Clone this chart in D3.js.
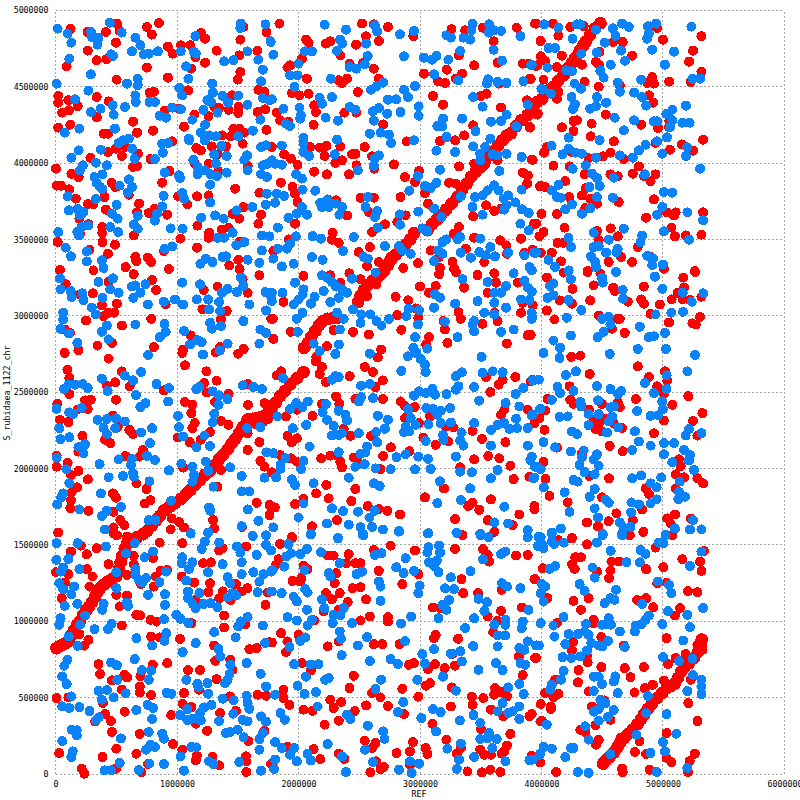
<!DOCTYPE html>
<html><head><meta charset="utf-8"><script src="https://d3js.org/d3.v7.min.js"></script>
<style>html,body{margin:0;background:#fff}svg{display:block}text{font-family:"DejaVu Sans Mono",monospace;font-size:8.3px;fill:#000}</style></head><body><svg id="c" width="800" height="800"></svg>
<script>
// all positions in thousands of bases: [REF, S_rubidaea_1122_chr]
const xTicks=[0,1000000,2000000,3000000,4000000,5000000,6000000];
const yTicks=[0,500000,1000000,1500000,2000000,2500000,3000000,3500000,4000000,4500000,5000000];
const mainDiagonal=[[8,824],[30,835],[55,845],[80,855],[105,870],[125,905],[150,940],[175,975],[201,1000],[225,1040],[250,1070],[275,1095],[300,1125],[325,1160],[345,1190],[365,1215],[395,1240],[430,1260],[464,1275],[500,1295],[520,1340],[535,1385],[550,1430],[570,1475],[590,1510],[630,1535],[671,1550],[720,1570],[754,1590],[790,1625],[825,1660],[860,1690],[892,1725],[940,1750],[985,1775],[1030,1800],[1070,1830],[1110,1860],[1150,1895],[1190,1925],[1230,1960],[1270,1985],[1306,2020],[1345,2060],[1380,2090],[1416,2125],[1450,2165],[1480,2195],[1513,2235],[1540,2270],[1581,2320],[1620,2325],[1660,2330],[1690,2335],[1720,2345],[1650,2300],[1700,2310],[1740,2330],[1750,2365],[1780,2400],[1810,2430],[1849,2475],[1890,2510],[1931,2550],[1985,2590],[2041,2630],[2045,2790],[2075,2820],[2105,2860],[2138,2900],[2170,2940],[2200,2965],[2240,2980],[2280,2985],[2490,3090],[2510,3130],[2540,3170],[2570,3200],[2610,3230],[2660,3260],[2700,3290],[2735,3330],[2758,3365],[2800,3400],[2840,3430],[2880,3465],[2920,3500],[2950,3540],[3061,3560],[3100,3600],[3140,3630],[3175,3660],[3215,3695],[3260,3735],[3310,3780],[3345,3825],[3385,3865],[3420,3910],[3460,3945],[3500,3975],[3530,4000],[3570,4050],[3605,4075],[3640,4110],[3680,4150],[3715,4180],[3750,4195],[3790,4240],[3835,4280],[3887,4315],[3930,4360],[3965,4400],[4005,4420],[4040,4460],[4070,4480],[4100,4500],[4140,4540],[4182,4575],[4215,4620],[4250,4655],[4280,4690],[4315,4735],[4345,4770],[4365,4795],[4400,4840],[4440,4880],[4485,4915]];
const secondDiagonal=[[4507,68],[4530,90],[4560,110],[4595,140],[4625,175],[4650,205],[4680,235],[4710,260],[4750,290],[4790,325],[4820,360],[4845,390],[4875,425],[4910,460],[4950,495],[4995,530],[5030,560],[5065,575],[5095,590],[5125,630],[5150,670],[5175,695],[5215,725],[5255,760],[5290,800],[5310,835],[5320,880]];
const redPoints=[[124,4880],[262,4858],[414,4858],[505,4913],[527,4865],[751,4891],[850,4917],[792,4841],[497,4788],[265,4736],[339,4673],[420,4681],[91,4633],[751,4625],[502,4546],[925,4559],[925,4762],[963,4716],[1032,4771],[1110,4771],[1151,4694],[1231,4657],[1325,4736],[1198,4852],[1231,4814],[1118,4618],[1521,4808],[1513,4705],[1521,4596],[1499,4546],[1662,4736],[1736,4858],[1546,4891],[22,4439],[22,4395],[105,4411],[55,4330],[110,4345],[182,4373],[339,4432],[436,4404],[339,4299],[638,4271],[22,4232],[121,4251],[395,4192],[431,4192],[671,4199],[803,4212],[773,4461],[809,4467],[897,4341],[1013,4356],[1143,4317],[1259,4306],[1093,4476],[1057,4238],[960,4142],[431,4072],[497,4094],[546,4046],[574,4105],[287,4035],[679,4061],[638,3974],[671,3980],[781,4026],[3,3963],[130,3930],[190,3908],[938,3948],[878,3871],[461,3871],[491,3843],[8,3852],[44,3852],[113,3828],[166,3767],[403,3777],[602,3793],[265,3732],[312,3732],[687,3734],[414,3695],[671,3677],[767,3673],[814,3701],[919,3662],[196,3636],[271,3599],[384,3581],[384,3542],[201,3537],[643,3526],[17,3483],[386,3483],[489,3465],[279,3433],[431,3406],[657,3385],[665,3358],[759,3380],[787,3352],[577,3319],[933,3306],[312,3297],[892,3424],[1027,3505],[1165,3446],[1168,3590],[1264,3544],[1259,3511],[1369,3564],[1424,3577],[1457,3668],[1513,3636],[1546,3712],[1479,3832],[1678,3806],[1259,3788],[1165,3782],[1010,3782],[1085,3729],[1692,3662],[1670,3603],[1515,3483],[1504,3367],[1430,3330],[1515,3306],[1159,4098],[1195,4083],[1286,4109],[1402,4109],[1333,4057],[1148,3996],[1259,3996],[1339,3948],[1581,3980],[1372,4181],[1463,4225],[1513,4225],[1554,4199],[1443,4175],[1540,4127],[1736,4218],[1664,4334],[1725,4352],[1507,4367],[1504,4328],[1347,4360],[1424,4349],[1306,4367],[1452,4443],[1670,4480],[1720,4465],
[1843,4913],[2063,4808],[2083,4788],[2226,4782],[2262,4797],[2474,4775],[2523,4913],[2620,4908],[2736,4891],[2556,4830],[2661,4799],[2945,4830],[2344,4705],[2028,4683],[1931,4640],[1909,4625],[2421,4651],[2532,4657],[2620,4618],[2069,4552],[2331,4542],[2399,4552],[2358,4524],[2661,4552],[3033,4585],[3220,4611],[3347,4585],[3149,4535],[3207,4524],[3295,4552],[3259,4876],[3372,4869],[3515,4886],[3796,4886],[3956,4913],[3992,4799],[3606,4797],[3320,4705],[3446,4640],[3639,4657],[3845,4651],[3895,4651],[3956,4635],[3900,4552],[3647,4520],[2488,4465],[1945,4459],[2008,4443],[2083,4454],[3107,4439],[3190,4382],[3501,4439],[3548,4454],[3667,4363],[3882,4411],[3970,4323],[2129,4378],[2143,4334],[1821,4330],[2477,4330],[2377,4330],[1849,4280],[1918,4269],[2124,4251],[2697,4253],[3438,4247],[3901,4236],[3364,4181],[3165,4144],[3289,4149],[2890,4142],[1780,4105],[2096,4105],[2174,4101],[2229,4112],[2344,4109],[2545,4105],[1882,4057],[1937,4029],[2215,4046],[2303,4002],[2358,4018],[2441,4057],[2469,4061],[2606,4044],[1992,3989],[2477,3985],[2625,3963],[2785,3991],[3322,3978],[3446,3996],[3639,4018],[3928,4022],[3474,3952],[2129,3943],[2234,3926],[2416,3926],[2876,3908],[2992,3948],[2959,3876],[1854,3871],[1950,3843],[1972,3799],[1992,3745],[3846,3937],[3887,3919],[3882,3865],[3992,3852],[3240,3871],[3295,3865],[3041,3804],[2840,3777],[2510,3773],[2620,3773],[2309,3756],[3066,3734],[3545,3723],[2399,3657],[1972,3603],[2579,3679],[2882,3657],[2813,3614],[3438,3651],[3612,3686],[3667,3701],[4000,3668],[3956,3603],[2711,3599],[2606,3548],[2959,3537],[2923,3494],[3320,3581],[3276,3537],[3446,3511],[3661,3494],[3832,3505],[3928,3433],[1920,3500],[2281,3544],[2275,3498],[2331,3478],[2587,3450],[2496,3417],[1793,3424],[2661,3352],[2758,3385],[2565,3326],[2862,3313],[2984,3345],[3088,3428],[3157,3385],[3165,3313],[3267,3352],[3378,3439],[3529,3352],[3711,3461],[3716,3406],[3859,3413],[3281,3308],
[3948,4913],[4094,4913],[4237,4891],[4347,4897],[4898,4895],[4953,4884],[5317,4830],[4140,4834],[3994,4799],[5000,4808],[4590,4793],[4669,4793],[5248,4736],[4168,4703],[4747,4703],[4477,4727],[3994,4699],[4030,4668],[4127,4629],[3967,4640],[4333,4644],[4449,4662],[4477,4640],[5215,4664],[5317,4598],[3912,4550],[4017,4546],[4355,4533],[4471,4500],[4645,4509],[4912,4563],[4926,4520],[4871,4524],[5052,4533],[5229,4531],[4140,4465],[4127,4421],[4885,4443],[4920,4395],[3967,4317],[3912,4334],[4529,4317],[4264,4275],[4292,4280],[4413,4258],[4821,4251],[4959,4229],[5050,4236],[5052,4275],[4168,4234],[4264,4208],[4405,4175],[3906,4232],[4595,4142],[4939,4133],[5331,4153],[4022,4068],[4044,4105],[4251,4072],[4388,4031],[4507,4044],[4568,4068],[4678,4026],[5058,4087],[5154,4122],[5248,4081],[3920,4022],[4099,3983],[4231,3978],[4802,3978],[4355,3926],[4568,3926],[4628,3913],[4752,3930],[4843,3915],[4939,3926],[4898,3880],[4196,3882],[3989,3847],[4030,3843],[4366,3837],[4333,3788],[4229,3777],[4402,3767],[4457,3734],[4636,3745],[4926,3762],[4000,3668],[4127,3666],[4361,3705],[4862,3642],[5030,3677],[5105,3677],[5091,3657],[5331,3677],[3939,3603],[5069,3577],[4017,3548],[3983,3520],[4190,3577],[4457,3555],[4570,3572],[4628,3520],[5099,3520],[5187,3526],[5317,3531],[4132,3478],[4182,3478],[4471,3494],[4793,3450],[3994,3413],[4085,3413],[4656,3385],[4160,3356],[4554,3352],[4747,3352],[4898,3385],[5008,3308],[4380,3293],[5262,3293],
[22,1581],[477,1576],[588,1554],[856,1515],[1043,1511],[207,1495],[127,1456],[257,1439],[339,1478],[1568,1489],[1347,1463],[1375,1478],[803,1413],[643,1428],[436,1373],[643,1373],[3,1321],[105,1308],[257,1341],[304,1293],[588,1304],[822,1293],[864,1332],[919,1336],[1038,1293],[1214,1380],[1278,1386],[1140,1253],[1272,1249],[809,1227],[704,1243],[77,1253],[279,1227],[1259,1190],[1375,1195],[1347,1151],[1532,1195],[1579,1216],[1485,1243],[500,1173],[588,1168],[50,1151],[527,1097],[1154,1140],[1441,1140],[1747,1188],[1728,1107],[665,1042],[698,1038],[781,1009],[831,998],[1388,1038],[1118,988],[546,972],[1388,959],[1562,981],[196,916],[787,900],[856,894],[1024,885],[270,878],[237,841],[1306,841],[1595,817],[1656,824],[1761,863],[353,719],[800,715],[919,726],[1314,741],[1438,748],[1457,682],[367,654],[566,650],[588,632],[698,639],[464,613],[1090,680],[1190,680],[1325,621],[546,552],[693,573],[693,534],[1057,530],[1181,552],[1435,508],[1664,519],[1733,512],[8,497],[105,501],[787,517],[389,464],[1046,460],[1118,438],[569,408],[1485,414],[1355,399],[408,392],[952,386],[326,344],[455,347],[1154,329],[1248,283],[464,275],[693,262],[1720,283],[966,196],[1587,216],[500,166],[1043,159],[30,137],[665,133],[1162,120],[1154,89],[1292,111],[1568,116],[1570,83],[386,111],[762,65],[1347,57],[1775,65],[215,35],[237,2],[497,35],[707,11],[1570,13],
[1945,1543],[1848,1506],[2242,1430],[2289,1430],[2413,1439],[2620,1467],[2758,1495],[2959,1463],[3289,1474],[3518,1472],[3557,1434],[3571,1391],[3791,1430],[3887,1434],[1835,1406],[1815,1369],[2041,1362],[2074,1341],[2394,1380],[2468,1380],[2510,1380],[2311,1315],[2275,1299],[2661,1330],[2986,1308],[1950,1264],[2022,1282],[2014,1260],[2298,1249],[2854,1243],[3342,1275],[3945,1277],[2446,1216],[2510,1223],[2226,1184],[2339,1184],[2275,1144],[2556,1144],[3356,1184],[3479,1184],[2405,1125],[3672,1206],[2207,1064],[2331,1075],[3107,1090],[3171,1086],[3667,1068],[3840,1090],[2587,1031],[2736,1027],[2736,998],[2510,1005],[3557,1031],[2132,1005],[3639,1005],[3603,929],[1857,922],[2000,911],[1909,868],[1780,861],[2331,868],[2240,835],[3116,889],[3129,911],[3314,885],[2620,850],[2689,850],[2832,850],[1898,798],[3267,787],[2028,726],[2909,715],[2950,726],[3066,687],[3124,719],[3204,693],[3287,709],[3956,759],[3813,770],[2102,678],[2455,643],[3846,647],[2419,563],[2606,530],[2675,501],[2854,558],[3047,578],[3083,595],[2986,506],[3262,567],[3427,506],[3521,497],[3617,562],[3611,519],[3667,536],[1876,552],[1876,497],[1925,453],[2262,486],[2350,471],[2289,432],[2556,449],[2736,445],[3254,442],[3433,453],[3716,508],[3584,421],[2041,421],[2116,414],[2463,412],[2868,392],[3686,377],[3901,377],[3992,344],[2215,323],[2331,349],[3102,329],[3744,262],[3501,294],[3218,225],[2942,209],[2545,218],[2634,203],[2606,170],[3716,187],[3694,148],[1909,177],[2124,163],[2331,133],[2377,98],[2807,137],[2917,148],[3047,170],[3061,131],[3303,133],[3336,170],[3496,159],[3529,126],[3584,126],[3672,133],[2179,98],[1780,61],[2639,83],[2675,33],[2702,46],[2917,61],[2592,11],[3391,17],[3510,11],[3579,28],[3661,13],
[4251,1543],[4375,1504],[4939,1482],[4278,1419],[4325,1419],[4576,1391],[4636,1391],[4251,1373],[4273,1343],[4457,1325],[4568,1332],[4557,1282],[4862,1341],[5003,1354],[5160,1406],[5306,1391],[5317,1330],[5339,1461],[4011,1347],[3942,1275],[4953,1249],[5030,1253],[5207,1197],[5284,1190],[4050,1151],[4264,1134],[4388,1151],[4788,1140],[4862,1151],[4920,1092],[5141,1086],[5099,1038],[4325,1075],[4430,1009],[4430,988],[4127,988],[4493,896],[5030,889],[4259,863],[4251,809],[4678,841],[5284,846],[5325,813],[5187,785],[5105,759],[5041,719],[3948,759],[4375,774],[4380,730],[4306,680],[4493,700],[4686,693],[4843,700],[4733,634],[4300,600],[4113,617],[4851,562],[4917,584],[4766,534],[4388,541],[5008,612],[5229,617],[4030,530],[4140,525],[4099,501],[3994,458],[4077,442],[4077,425],[5209,464],[4416,442],[4518,482],[3920,392],[4003,349],[4568,355],[5284,347],[4320,290],[4444,318],[4361,275],[5030,268],[4471,224],[4449,192],[4807,214],[4769,144],[4862,131],[5030,105],[5069,78],[5262,133],[5220,85],[3989,76],[3920,120],[4121,13],[4664,35],[4669,11],[4890,28],[5207,13],[5085,595],[4650,235],
[36,3300],[83,3206],[436,3221],[643,3272],[795,3234],[201,3140],[306,3147],[505,3079],[381,3068],[828,3169],[906,3074],[251,2969],[395,2998],[436,3020],[483,3020],[787,2980],[546,2936],[77,2910],[119,2888],[1209,3042],[1333,3191],[1220,3169],[1408,3031],[1361,2976],[1581,3151],[1540,3239],[1678,3265],[1775,2980],[1112,2871],[1051,2779],[1043,2757],[1355,2796],[1319,2761],[1548,2783],[1504,2752],[345,2805],[464,2823],[809,2796],[188,2775],[75,2757],[436,2720],[1065,2676],[97,2647],[113,2593],[1242,2636],[544,2636],[1223,2560],[1325,2575],[422,2542],[491,2564],[610,2538],[113,2488],[892,2512],[1245,2498],[1424,2490],[1581,2553],[14,2424],[243,2446],[290,2450],[497,2450],[179,2385],[265,2389],[1065,2435],[1126,2417],[1118,2363],[1314,2435],[1584,2417],[1720,2428],[36,2319],[105,2304],[472,2347],[511,2271],[607,2253],[638,2225],[1145,2297],[1126,2264],[1272,2238],[1361,2312],[1424,2286],[221,2214],[408,2188],[450,2166],[1195,2188],[1104,2173],[1007,2203],[1581,2231],[1678,2173],[188,2111],[720,2122],[690,2078],[574,2082],[8,2085],[1581,2122],[99,2039],[8,2012],[1686,2050],[188,1984],[1051,2006],[1361,1990],[1720,2012],[127,1958],[265,1929],[665,1903],[179,1877],[132,1844],[748,1866],[1333,1881],[472,1837],[497,1809],[127,1793],[781,1793],[734,1771],[121,1741],[270,1723],[477,1717],[1656,1776],[1761,1761],[1761,1695],[533,1662],[566,1629],[477,1614],[947,1601],[955,1673],[1016,1651],[1057,1614],[1297,1662],[1306,1607],[505,1563],[1535,1618],
[2041,3261],[2262,3265],[2419,3278],[2344,3217],[1876,3092],[2496,3129],[2510,3239],[2565,3129],[2639,3206],[2799,3125],[2904,3101],[3000,3191],[3074,3151],[3129,3195],[3364,3184],[3295,3287],[3157,3272],[3474,3267],[3612,3278],[2964,3048],[1788,2980],[2317,2976],[2813,3004],[2986,2987],[3317,3024],[3336,2980],[3193,2965],[3204,2910],[3515,2947],[3639,2965],[3612,3020],[3557,3151],[3625,3217],[3832,3020],[3846,3085],[3804,3217],[1937,2895],[2289,2906],[2449,2895],[2579,2877],[2846,2908],[1793,2849],[3074,2860],[3052,2812],[3226,2823],[3714,2818],[3887,2873],[2234,2801],[2680,2779],[2653,2728],[2146,2731],[2143,2702],[2193,2665],[2545,2665],[2174,2619],[2612,2632],[1857,2636],[1821,2610],[2421,2604],[2226,2566],[2694,2577],[2634,2534],[3543,2599],[3647,2549],[3680,2582],[3785,2599],[3928,2582],[3579,2501],[2309,2472],[2694,2455],[2468,2457],[2840,2439],[2336,2424],[2873,2411],[2956,2402],[2193,2422],[1986,2385],[2116,2345],[1895,2341],[2876,2330],[2992,2297],[3083,2341],[3276,2269],[3212,2275],[3694,2385],[3667,2352],[3887,2385],[3984,2330],[2372,2260],[2427,2214],[2598,2214],[1909,2214],[1945,2172],[1986,2198],[3433,2247],[3028,2203],[3510,2194],[3234,2177],[3129,2155],[3703,2172],[2760,2139],[2912,2113],[2697,2082],[2187,2067],[2262,2085],[2317,2085],[2344,2045],[2358,2008],[2455,2071],[2496,2034],[3562,2082],[3653,2067],[3446,2060],[3744,2019],[3331,2008],[1937,2067],[1986,2045],[3901,1947],[1849,2089],[1780,1975],[2675,1995],[3771,1931],[2468,1866],[2229,1892],[2146,1837],[3198,1869],[2248,1804],[3041,1811],[3584,1798],[3433,1776],[3488,1729],[3397,1754],[2041,1800],[2435,1787],[2570,1754],[2661,1734],[2730,1723],[2835,1699],[1972,1767],[1804,1745],[3818,1699],[3289,1669],[3557,1662],[3612,1585],[3763,1629],[2317,1662],[2110,1622],[1945,1552],[3350,1563],
[4044,3250],[4182,3283],[4380,3287],[4485,3278],[5168,3250],[5265,3287],[4256,3177],[4430,3199],[4590,3184],[4604,3162],[4843,3191],[5174,3184],[5120,3151],[4149,3101],[4251,3079],[4402,3101],[4711,3092],[4821,3107],[4843,3079],[4975,3074],[5072,3107],[5163,3107],[5223,3103],[5317,3125],[4044,3035],[3928,3068],[4107,2976],[4471,3002],[4628,2980],[4645,2980],[4898,3013],[5050,2956],[5306,2993],[5243,2950],[5270,2943],[4581,2915],[4686,2888],[3912,2873],[4245,2731],[4320,2739],[4793,2669],[4397,2619],[5017,2636],[5036,2575],[4884,2599],[3912,2571],[4231,2538],[4953,2538],[5008,2490],[5209,2474],[4777,2455],[4050,2457],[4237,2450],[4264,2424],[4499,2422],[4628,2433],[4645,2402],[5077,2417],[4030,2380],[4333,2406],[4391,2385],[5325,2363],[5248,2312],[5008,2314],[4430,2319],[4471,2293],[4526,2323],[4595,2297],[4664,2264],[4443,2260],[4499,2242],[3942,2297],[4025,2253],[4926,2231],[5284,2216],[4562,2148],[4127,2137],[4669,2113],[4333,2100],[4017,2043],[5132,2060],[5146,2017],[5105,1962],[5174,1942],[5284,1936],[5331,1903],[4394,1951],[4033,1933],[4556,1936],[5105,1870],[4857,1870],[4884,1833],[4066,1822],[4499,1811],[4215,1778],[3942,1754],[3942,1732],[4829,1732],[4617,1706],[5099,1699],[5036,1673],[5063,1640],[5231,1673],[4752,1662],[4554,1655],[4375,1647],[4466,1620],[4727,1563],[4838,1585],[5077,1563],[4251,1546],[4140,1530]];
const bluePoints=[[17,4880],[99,4847],[130,4788],[290,4858],[298,4825],[353,4819],[345,4775],[447,4919],[544,4854],[657,4821],[698,4771],[629,4731],[458,4712],[472,4701],[113,4683],[290,4581],[8,4520],[270,4474],[588,4520],[676,4552],[676,4509],[657,4443],[660,4400],[773,4400],[817,4400],[160,4417],[469,4378],[370,4356],[290,4334],[478,4317],[571,4367],[856,4310],[911,4297],[960,4363],[1032,4352],[489,4225],[75,4199],[196,4225],[1217,4349],[1333,4330],[1126,4284],[1231,4251],[1579,4382],[1504,4441],[1375,4439],[1421,4395],[1250,4411],[1278,4400],[1295,4461],[1289,4520],[1043,4443],[1018,4493],[1093,4552],[1076,4633],[1388,4666],[1463,4673],[1579,4731],[1670,4677],[1706,4611],[1692,4535],[1706,4426],[1761,4411],[1686,4284],[1030,4731],[1151,4830],[1140,4727],[1154,4716],[1526,4913],[1521,4884],[1728,4908],[1769,4797],[726,4712],[767,4716],[842,4731],[900,3937],[1016,3919],[1024,3902],[1168,3974],[1168,3926],[1231,3952],[1278,3926],[1328,3915],[1408,3937],[1306,4057],[1408,4046],[1320,3996],[1134,4022],[883,4068],[878,4127],[927,4131],[817,4026],[1096,4160],[1099,4149],[1195,4199],[1228,4149],[1264,4181],[1320,4175],[1366,4112],[1504,4175],[1623,4212],[1576,4050],[1554,4022],[1581,3952],[1692,4105],[1733,4116],[1706,3985],[1747,3996],[1692,3926],[1739,3908],[1272,3858],[1739,3799],[1731,3727],[519,4131],[555,4149],[602,4160],[629,4094],[651,4028],[373,4087],[190,4083],[130,4035],[331,4002],[422,3985],[224,3985],[201,3952],[320,3908],[339,3869],[367,3843],[386,3828],[386,3926],[527,3852],[604,3893],[629,3843],[593,3806],[331,3764],[99,3782],[502,3727],[889,3786],[1043,3804],[1057,3767],[1272,3742],[110,3690],[179,3701],[229,3679],[201,3657],[464,3668],[511,3636],[676,3655],[878,3716],[836,3668],[817,3623],[643,3599],[676,3570],[450,3581],[516,3548],[270,3592],[215,3581],[179,3548],[193,3526],[22,3548],[947,3572],[1046,3570],[1198,3642],[1314,3657],[1383,3636],[1490,3690],[1620,3712],[1457,3544],[1333,3511],[1388,3511],[1488,3461],[1554,3483],[1698,3526],[1761,3520],[1698,3428],[1581,3367],[960,3454],[897,3439],[257,3422],[83,3446],[127,3389],[257,3356],[381,3363],[395,3313],[1192,3341],[1237,3374],[1292,3352],[1375,3385],[1402,3389],[1678,3347],
[2215,4906],[2391,4873],[2628,4902],[2647,4862],[2835,4843],[2950,4865],[1771,4793],[2342,4808],[2361,4782],[2556,4782],[2050,4731],[2110,4731],[2317,4734],[1793,4710],[2570,4701],[2868,4699],[2000,4651],[2419,4629],[2477,4618],[2545,4646],[1931,4574],[1992,4574],[2267,4552],[2697,4526],[2642,4502],[2598,4480],[1967,4498],[2959,4504],[2868,4480],[2901,4432],[2275,4432],[2174,4428],[2193,4389],[1780,4417],[1876,4356],[2008,4363],[2019,4312],[2014,4291],[2421,4367],[2468,4349],[2661,4360],[2612,4339],[2736,4415],[2804,4417],[2840,4334],[2730,4323],[2989,4371],[2989,4310],[2223,4297],[2325,4277],[2620,4277],[1893,4258],[1929,4242],[2587,4192],[2675,4199],[2744,4186],[2763,4131],[2041,4166],[2041,4127],[2317,4153],[1862,4114],[2950,4149],[2041,4072],[2088,4046],[2298,4057],[2661,4050],[2628,4028],[2620,3980],[1780,4018],[1807,3996],[1862,3989],[2488,3952],[1981,3926],[2028,3898],[2983,3915],[3041,3850],[3088,3837],[3135,3871],[3165,3956],[2912,3819],[2033,3826],[2138,3819],[1821,3799],[1882,3784],[1807,3740],[2570,3777],[2179,3740],[2240,3762],[2193,3712],[2248,3712],[2303,3734],[2358,3712],[2336,3662],[2028,3712],[1986,3668],[1917,3642],[2069,3662],[2551,3712],[2647,3686],[2628,3647],[2986,3682],[3116,3701],[3176,3646],[2832,3664],[2835,3596],[2653,3577],[3020,3572],[3061,3555],[1829,3577],[2116,3522],[2185,3505],[2455,3516],[1978,3520],[1931,3472],[1903,3439],[1829,3439],[1793,3374],[2366,3424],[2711,3456],[2110,3385],[2198,3367],[1959,3341],[1862,3323],[2827,3456],[2854,3428],[2537,3385],[2570,3374],[2923,3406],[3116,3358],[3149,3428],[3185,3483],[3218,3500],[3185,3406],[3336,3413],[3331,3516],[3309,3500],[3496,3505],[3488,3417],[3419,3380],[3542,3396],[3579,3450],[3617,3389],[3727,3413],[3859,3396],[3956,3413],[3901,3319],[3433,4913],[3424,4869],[3218,4836],[3254,4821],[3358,4821],[3413,4808],[3570,4908],[3565,4854],[3612,4869],[3667,4865],[3827,4830],[3606,4742],[3331,4734],[3033,4690],[3099,4677],[3135,4701],[3234,4677],[3675,4670],[3915,4644],[3116,4581],[3314,4542],[3562,4548],[3551,4520],[3639,4531],[3713,4524],[3851,4535],[4000,4487],[3438,4432],[3887,4382],[3515,4369],[3347,4291],[3190,4291],[3143,4242],[3185,4240],[3584,4271],[3667,4275],[3713,4317],[3791,4240],[3457,4208],[3218,4170],[3579,4160],[3438,4109],[3135,4081],[3289,4072],[3537,4105],[3496,4061],[3599,4057],[3639,4050],[3713,4061],[3837,4040],[3496,4018],[3653,3948],[3837,3826],[3612,3854],[3557,3821],[3647,3821],[3515,3788],[3452,3777],[3336,3782],[3727,3788],[3689,3767],[3711,3723],[3785,3742],[3433,3712],[3515,3662],[3694,3695],[3840,3697],[3895,3673],[3827,3603],[3895,3559],
[4022,4908],[4140,4886],[4292,4908],[4320,4908],[4664,4913],[4719,4891],[4587,4882],[4876,4895],[4945,4913],[5234,4893],[4884,4847],[4871,4814],[4609,4832],[4256,4814],[4449,4873],[4521,4788],[4457,4723],[4656,4736],[4912,4742],[5091,4729],[4058,4753],[4113,4753],[4328,4716],[4689,4670],[4570,4644],[5017,4644],[3920,4640],[4050,4625],[4204,4607],[4251,4601],[4485,4603],[4512,4559],[4821,4546],[5243,4552],[5306,4552],[4628,4526],[4273,4520],[4325,4487],[4645,4467],[4763,4461],[4011,4480],[4077,4454],[4829,4432],[4457,4432],[4248,4432],[4276,4384],[4259,4354],[4449,4373],[4402,4356],[4532,4395],[4862,4376],[5190,4376],[5077,4349],[5028,4323],[4603,4297],[4763,4280],[4926,4273],[4953,4273],[5077,4280],[5058,4236],[5160,4264],[5220,4264],[4678,4214],[4223,4166],[4479,4149],[5033,4168],[4953,4142],[4857,4120],[4802,4083],[4083,4114],[4223,4094],[4174,4057],[4278,4068],[4333,4061],[4449,4035],[4645,4050],[4752,4035],[4995,4061],[5201,4103],[5190,4046],[4364,3985],[4256,3963],[5306,3963],[4416,3930],[4457,3902],[4595,3904],[4851,3926],[4140,3858],[4085,3821],[4127,3777],[4160,3773],[4396,3843],[4479,3850],[4457,3777],[4587,3773],[5008,3810],[5077,3806],[4251,3729],[4196,3697],[4402,3705],[4333,3668],[4995,3712],[4953,3662],[5201,3677],[5331,3625],[4430,3544],[4678,3570],[5008,3553],[4829,3526],[4815,3483],[4554,3498],[4471,3456],[4430,3450],[4223,3511],[4243,3450],[5215,3498],[4532,3413],[4628,3439],[4617,3417],[3939,3413],[4058,3367],[4408,3389],[4443,3352],[4449,3319],[4871,3393],[4920,3376],[4912,3332],[5000,3336],[4113,3319],[4223,3297],[3920,3297],
[36,3245],[353,3223],[472,3245],[41,3173],[124,3162],[221,3147],[229,3103],[132,3123],[450,3173],[519,3151],[386,3118],[629,3191],[657,3199],[740,3206],[698,3151],[640,3118],[759,3074],[892,3092],[983,3107],[1049,3074],[1043,3217],[1190,3206],[1369,3151],[1416,3177],[1256,3107],[1162,3107],[1347,3090],[1493,3155],[1526,3250],[1546,3195],[1728,3155],[1595,3074],[1775,3129],[1733,3035],[1264,3042],[1355,3031],[298,3053],[331,3009],[63,3020],[63,2976],[41,2915],[110,2884],[381,2895],[422,2936],[657,2943],[897,2947],[906,2895],[858,2860],[1057,2901],[436,2845],[179,2823],[1272,2954],[1286,2915],[1361,2932],[1546,2965],[1686,2910],[1733,2888],[1678,2818],[1107,2812],[1167,2840],[1203,2827],[1416,2818],[1352,2772],[762,2744],[1214,2746],[704,2632],[569,2608],[638,2577],[381,2588],[831,2553],[933,2527],[428,2509],[69,2520],[105,2549],[160,2549],[224,2553],[265,2527],[662,2481],[1184,2534],[1159,2520],[1292,2505],[1347,2479],[1416,2455],[1540,2544],[1628,2534],[1698,2520],[927,2439],[740,2428],[698,2402],[215,2396],[8,2391],[1342,2417],[113,2367],[146,2358],[1007,2345],[1306,2358],[1292,2301],[345,2319],[422,2325],[497,2329],[569,2308],[30,2264],[395,2266],[491,2264],[422,2225],[795,2264],[704,2236],[1016,2271],[1576,2264],[1686,2271],[1049,2209],[1225,2216],[41,2192],[113,2205],[778,2166],[243,2159],[188,2139],[229,2100],[1270,2148],[1159,2139],[1736,2106],[8,2071],[519,2060],[629,2063],[753,2082],[817,2056],[362,2028],[621,2023],[1035,2032],[1126,2012],[1236,2045],[1258,1984],[1438,2008],[88,1995],[933,1988],[638,1969],[643,1947],[436,1942],[555,1951],[1140,1958],[1532,1951],[1720,1940],[773,1916],[113,1903],[1126,1914],[1300,1881],[373,1837],[1532,1850],[1595,1850],[63,1837],[47,1811],[14,1765],[952,1789],[538,1749],[196,1732],[1264,1745],[1273,1723],[422,1723],[381,1690],[1582,1732],[767,1662],[822,1662],[1670,1658],[406,1601],[1532,1622],[1112,1574],[1256,1579],[1733,1563],
[2193,3265],[2234,3250],[2275,3221],[2309,3191],[2358,3173],[2399,3151],[2331,3118],[2262,3090],[2441,3243],[2207,3162],[2132,3125],[2102,3079],[2033,3140],[2000,3107],[1959,3074],[2041,3173],[1972,3217],[1868,3151],[1780,3096],[1780,3151],[2033,3020],[1986,2980],[1994,2895],[2317,3020],[2372,2980],[2449,3042],[2518,3009],[2510,2954],[2592,3009],[2642,2965],[2683,2936],[2744,2980],[2634,3283],[2887,2998],[2909,3046],[2992,3037],[2983,2943],[3116,3053],[3124,3140],[3165,3118],[3289,3079],[3350,3239],[3474,3096],[3529,3020],[3612,3009],[3557,3221],[3612,3085],[3612,3151],[3667,3151],[3708,3195],[3708,3053],[3859,3228],[3887,3184],[3832,3107],[3901,3103],[3923,2987],[3771,3278],[3446,2965],[3433,2943],[3446,2899],[3204,2961],[2959,2860],[3309,2860],[3667,2895],[3771,2910],[2339,2910],[2331,2812],[2124,2818],[2174,2768],[2303,2750],[2587,2752],[2945,2790],[3061,2785],[2901,2735],[2970,2757],[3006,2717],[3041,2680],[3047,2632],[2846,2639],[3507,2731],[2303,2604],[2331,2599],[2275,2582],[1871,2593],[3295,2604],[3344,2630],[3515,2626],[3598,2636],[3680,2630],[2515,2542],[2587,2553],[3317,2538],[3295,2516],[3446,2534],[3851,2527],[3978,2582],[2992,2505],[2950,2477],[3047,2494],[3102,2523],[3124,2483],[3218,2487],[3788,2488],[2496,2439],[2515,2468],[2614,2461],[2077,2439],[1981,2428],[2033,2402],[1931,2389],[2226,2422],[2198,2369],[3488,2444],[3705,2428],[3818,2406],[3992,2391],[2331,2378],[2386,2352],[2399,2314],[2234,2319],[2653,2345],[2736,2319],[1826,2341],[3928,2352],[2901,2389],[3052,2396],[3107,2391],[3171,2378],[3248,2396],[3143,2352],[2063,2286],[1953,2264],[2289,2279],[2711,2260],[2639,2238],[2496,2231],[2275,2216],[2331,2220],[2358,2231],[2923,2330],[2882,2275],[2964,2286],[2909,2242],[2868,2238],[3069,2290],[3171,2297],[3254,2301],[3446,2297],[3342,2236],[3190,2220],[3193,2188],[3047,2181],[3331,2183],[3358,2150],[3584,2253],[3639,2286],[3694,2297],[3736,2260],[3799,2264],[3791,2326],[3887,2264],[3584,2150],[2647,2172],[2091,2144],[2565,2144],[2331,2107],[2551,2105],[2510,2096],[1793,2100],[1893,2067],[1851,2023],[1851,1997],[2041,2050],[2022,1997],[2545,2028],[2468,2012],[2634,2001],[2758,1995],[2807,2074],[2882,2093],[2986,2078],[2959,1995],[3066,2063],[3088,1997],[3295,2078],[3331,1979],[3427,1975],[3887,2150],[3909,2056],[3970,2012],[3942,1940],[1815,1942],[1945,1929],[1972,1892],[2124,1903],[2413,1940],[2620,1903],[2669,1885],[3165,1916],[3413,1870],[3584,1936],[3639,1990],[3694,1750],[3336,1794],[3143,1773],[2041,1771],[2275,1739],[2366,1721],[2490,1717],[2628,1723],[2584,1679],[2000,1679],[3612,1647],[3727,1640],[2234,1640],[2413,1633],[2510,1616],[2606,1618],[2694,1601],[2827,1592],[2102,1568],[1793,1614],[2325,1546],[2532,1563],[3066,1574],[3303,1579],[3501,1563],[3887,1596],
[4223,3293],[4614,3287],[4499,3250],[4504,3217],[4934,3256],[4242,3239],[4099,3212],[4072,3195],[4050,3118],[4099,3134],[3920,3158],[4995,3177],[4669,3169],[4672,3112],[5163,3151],[5333,3147],[5237,3092],[4223,3103],[4328,3037],[4939,3009],[5069,3020],[5165,3026],[3920,3020],[3920,2980],[4209,2987],[4499,2980],[4554,2993],[4568,2943],[4810,2928],[4512,2895],[4463,2860],[4242,2871],[4884,2860],[4926,2866],[5017,2888],[4099,2838],[4154,2790],[4793,2783],[5025,2783],[4017,2757],[4149,2724],[4562,2750],[5265,2744],[4284,2636],[4201,2612],[5201,2636],[5030,2610],[4851,2560],[3931,2577],[4457,2540],[4132,2536],[4568,2520],[4656,2507],[4264,2509],[5030,2520],[4631,2488],[4926,2494],[4154,2494],[4085,2450],[4466,2446],[4320,2435],[4328,2406],[4995,2439],[5000,2389],[4568,2400],[4595,2406],[3989,2389],[4788,2376],[4388,2358],[4471,2356],[4581,2341],[4961,2349],[4898,2345],[3920,2349],[4149,2339],[4215,2341],[4554,2308],[4388,2284],[4631,2269],[5215,2258],[5187,2216],[5317,2231],[4540,2236],[4769,2244],[4251,2242],[4292,2225],[4017,2172],[4113,2139],[4802,2177],[4747,2122],[4898,2150],[5008,2166],[5091,2166],[4242,2111],[4347,2118],[4457,2093],[4430,2060],[4333,2074],[4314,2023],[4471,2019],[5008,2093],[5174,2122],[5223,2089],[5215,2052],[5077,2041],[3920,2078],[5256,1990],[3948,2012],[3994,1995],[3934,1936],[4355,1977],[4438,1962],[4264,1925],[4298,1914],[4747,1936],[4821,1955],[4986,1942],[4898,1903],[4948,1877],[5138,1914],[4019,1877],[4190,1844],[4438,1866],[4397,1815],[4526,1798],[4554,1776],[4741,1778],[4802,1765],[4948,1798],[4898,1771],[5132,1848],[5182,1815],[5127,1800],[4438,1739],[4231,1717],[4738,1712],[4466,1679],[4645,1647],[4678,1612],[4733,1618],[4664,1563],[4504,1563],[4160,1607],[4085,1581],[5099,1607],[5223,1601],[5317,1601],[5248,1662],[5022,1563],[3975,1552],
[1112,1576],[1256,1581],[1623,1559],[8,1511],[182,1511],[414,1489],[651,1511],[803,1456],[1228,1522],[1347,1515],[1493,1489],[1521,1450],[1733,1500],[1775,1463],[1203,1474],[1656,1434],[580,1445],[734,1419],[6,1402],[105,1408],[1043,1419],[1038,1380],[1126,1386],[1532,1386],[1098,1341],[63,1352],[44,1325],[196,1341],[500,1321],[911,1325],[1256,1321],[1375,1373],[657,1341],[657,1304],[685,1271],[712,1253],[745,1282],[1532,1308],[1628,1321],[1711,1308],[1775,1325],[1076,1267],[1416,1288],[1438,1249],[30,1249],[63,1210],[152,1227],[855,1256],[1678,1260],[500,1216],[762,1173],[130,1177],[900,1177],[1090,1195],[1184,1184],[1664,1190],[1775,1195],[1416,1155],[1485,1168],[1457,1184],[1090,1151],[588,1123],[596,1101],[395,1114],[384,1075],[179,1114],[75,1101],[900,1107],[1129,1114],[1220,1114],[1275,1118],[1331,1092],[1154,1086],[243,1038],[41,1020],[30,977],[201,977],[994,1042],[1029,1016],[1093,988],[1581,1027],[1526,999],[1504,966],[892,1014],[461,983],[431,948],[320,948],[1706,972],[911,922],[1306,929],[108,900],[665,889],[897,872],[1482,894],[182,839],[795,841],[1154,857],[1725,857],[1341,820],[1046,798],[1355,770],[651,752],[458,730],[505,711],[97,748],[72,709],[1573,726],[1438,715],[712,680],[787,676],[55,639],[1432,654],[508,617],[767,617],[1076,617],[1416,617],[1394,595],[1689,656],[91,589],[1167,591],[1176,567],[1250,595],[1733,573],[353,545],[422,549],[478,501],[577,528],[914,532],[952,525],[1256,525],[130,508],[381,486],[1375,493],[1466,482],[1573,512],[1581,464],[1595,427],[55,443],[113,432],[196,438],[759,453],[803,432],[1283,453],[1085,425],[1223,436],[1190,399],[279,412],[665,419],[1024,386],[1463,395],[356,371],[331,351],[795,360],[1085,353],[1126,362],[1195,351],[1347,347],[1540,355],[1581,344],[1692,377],[1733,342],[132,290],[174,286],[174,253],[767,275],[878,264],[892,231],[1402,268],[1438,275],[1499,290],[1678,229],[1706,268],[1548,240],[538,233],[55,216],[781,192],[745,159],[817,177],[1118,177],[1159,174],[1678,159],[141,148],[130,111],[1029,115],[773,68],[892,65],[1264,83],[1300,65],[527,72],[1512,78],[403,24],[458,24],[685,26],[1057,22],[1692,22],
[2102,1572],[2325,1543],[2532,1572],[2827,1587],[3069,1576],[3300,1581],[3496,1572],[3565,1550],[3887,1550],[3970,1493],[1917,1506],[1937,1445],[1898,1424],[2014,1439],[2069,1474],[2185,1452],[2628,1434],[2683,1445],[3157,1495],[3165,1450],[3061,1450],[3069,1485],[3667,1439],[3702,1456],[2882,1413],[2339,1380],[3074,1386],[3138,1397],[3518,1406],[1882,1358],[2050,1336],[1788,1336],[2804,1354],[2865,1315],[2950,1330],[3116,1362],[3152,1321],[3416,1328],[2248,1315],[2262,1293],[2477,1308],[2523,1325],[3254,1288],[2661,1260],[2675,1227],[2997,1234],[2986,1184],[3207,1216],[3281,1210],[3675,1249],[3716,1227],[3827,1216],[1780,1195],[1862,1184],[1959,1162],[1986,1129],[2055,1210],[2074,1188],[2193,1144],[2675,1134],[3482,1147],[3551,1125],[3240,1140],[3185,1107],[3218,1075],[2069,1075],[2212,1086],[3529,1068],[3893,1075],[2372,1086],[2289,1042],[2344,1038],[1909,1027],[1986,1005],[2110,1009],[2074,972],[2281,988],[2441,988],[2846,985],[2928,1031],[3152,1020],[3446,1020],[3612,977],[3703,1009],[3703,977],[3846,998],[3838,955],[3372,955],[2339,933],[2350,885],[2014,872],[2055,894],[2565,896],[2876,870],[3639,907],[3702,907],[2488,841],[3116,817],[3438,837],[3639,835],[3887,868],[3818,824],[3860,813],[3978,841],[1925,830],[2355,778],[3019,785],[3331,804],[3254,787],[2587,739],[2758,752],[2818,719],[3041,722],[1964,719],[2102,717],[2165,719],[3344,737],[3482,682],[3625,726],[3680,680],[3827,726],[3866,715],[2061,637],[2220,617],[2248,628],[2680,617],[2978,617],[3190,637],[1992,578],[2050,525],[2143,536],[2634,556],[3295,545],[3727,567],[3818,589],[1807,519],[3854,523],[2862,471],[2157,442],[3107,425],[3171,405],[3680,464],[3639,410],[1851,399],[1887,355],[2399,388],[2427,360],[2818,405],[3011,366],[3441,386],[3763,410],[3818,442],[3727,399],[3818,360],[3328,351],[2570,316],[3496,334],[3132,279],[2697,279],[2708,231],[3570,268],[3496,229],[3557,235],[3631,229],[2240,196],[1807,209],[3336,198],[1862,170],[1964,170],[2548,159],[3226,166],[3595,170],[1931,126],[2074,133],[2358,115],[3446,111],[3984,126],[1807,94],[1986,83],[2102,89],[2612,78],[2917,83],[2992,68],[3322,94],[3703,83],[3901,89],[1799,33],[2391,13],[2827,28],[3303,33],[2931,7],
[4504,1572],[4664,1572],[3994,1550],[4085,1572],[4085,1522],[4105,1506],[4003,1506],[4017,1478],[4182,1515],[4457,1515],[5022,1565],[4967,1515],[5003,1511],[4570,1461],[4815,1467],[4857,1441],[5317,1456],[4700,1386],[4810,1386],[5223,1362],[4066,1343],[4113,1362],[4421,1352],[4438,1286],[4314,1243],[4355,1199],[4003,1245],[4030,1227],[3994,1184],[4017,1129],[4959,1260],[5050,1238],[5069,1184],[4614,1206],[4568,1151],[4601,1140],[4521,1118],[4829,1114],[5041,1066],[5331,1086],[5201,1042],[4182,1027],[4884,1038],[4857,1009],[4554,1020],[4526,981],[4499,977],[4573,977],[4824,981],[4774,970],[4366,981],[3994,988],[4099,972],[4995,981],[5223,961],[4645,933],[4769,933],[4223,916],[4300,916],[4355,933],[4388,911],[4107,900],[4548,872],[5168,874],[4196,850],[4410,857],[4471,842],[4499,835],[3956,842],[4686,831],[4375,809],[4174,765],[4245,759],[4320,770],[5000,765],[5132,739],[5243,754],[4182,676],[4160,617],[4430,637],[4471,637],[4609,639],[4595,606],[4499,589],[5248,647],[5317,617],[5317,573],[5317,523],[4085,584],[4072,552],[4628,530],[4430,543],[5201,543],[4876,510],[4485,486],[4526,464],[4595,419],[4471,425],[4430,408],[4546,373],[4471,349],[4862,399],[5030,392],[4361,312],[4044,323],[4782,257],[5110,264],[4388,225],[5000,209],[5017,148],[4017,177],[4085,166],[4242,170],[4264,170],[4567,131],[4898,137],[4196,111],[3989,133],[3928,94],[5201,41],[4300,13],[4388,7],[4948,13]];
const xLabel="REF", yLabel="S_rubidaea_1122_chr";
const UNIT=1000;
const x=d3.scaleLinear().domain([0,6000000]).range([55.6,784.4]);
const y=d3.scaleLinear().domain([0,5000000]).range([774,10.3]);
const svg=d3.select("#c");
const grid=svg.append("g").attr("shape-rendering","crispEdges").attr("stroke","#a8a8a8").attr("stroke-dasharray","2,2");
grid.selectAll(".v").data(xTicks).join("line").attr("x1",d=>x(d)).attr("x2",d=>x(d)).attr("y1",y.range()[0]).attr("y2",y.range()[1]);
grid.selectAll(".h").data(yTicks).join("line").attr("y1",d=>y(d)).attr("y2",d=>y(d)).attr("x1",x.range()[0]).attr("x2",x.range()[1]);
const plot=(c,pts,r)=>svg.append("g").attr("fill",c).attr("shape-rendering","crispEdges").selectAll("circle").data(pts).join("circle").attr("cx",d=>x(d[0]*UNIT)).attr("cy",d=>y(d[1]*UNIT)).attr("r",r);
plot("#ff0000",redPoints,5);
plot("#ff0000",[...mainDiagonal,...secondDiagonal],6.4);
plot("#0a82fa",bluePoints,5);
const ax=svg.append("g").attr("transform",`translate(0,${y(0)})`).call(d3.axisBottom(x).tickValues(xTicks).tickSize(0).tickPadding(7).tickFormat(d3.format("d")));
const ay=svg.append("g").attr("transform",`translate(${x(0)},0)`).call(d3.axisLeft(y).tickValues(yTicks).tickSize(0).tickPadding(7).tickFormat(d3.format("d")));
[ax,ay].forEach(a=>{a.select(".domain").remove();a.attr("font-family",null).attr("font-size",null)});
svg.append("text").attr("x",419).attr("y",797).attr("text-anchor","middle").text(xLabel);
svg.append("text").attr("transform","translate(10,393) rotate(-90)").attr("text-anchor","middle").text(yLabel);
</script></body></html>
